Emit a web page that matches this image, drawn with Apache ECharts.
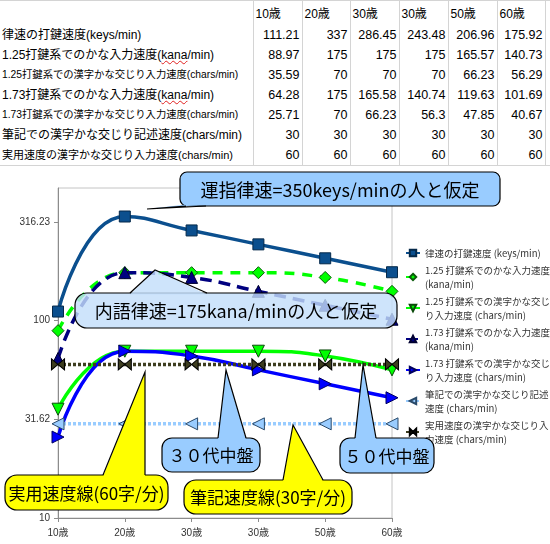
<!DOCTYPE html>
<html>
<head>
<meta charset="utf-8">
<title>打鍵速度と入力速度</title>
<script src="https://cdn.jsdelivr.net/npm/echarts@6/dist/echarts.min.js"></script>
<style>
  body { margin: 0; background: #fff; }
  #wrap { position: relative; width: 550px; height: 544px; overflow: hidden; }
  #chart { position: absolute; left: 0; top: 0; width: 550px; height: 544px; }
  #sheet { position: absolute; left: 0; top: 0; z-index: 2; background: #fff;
           border-collapse: collapse; table-layout: fixed;
           font-family: "Liberation Sans", "Noto Sans CJK JP", sans-serif; color: #000; }
  #sheet td { border-right: 1px solid #d4d4d4; white-space: nowrap; overflow: hidden;
              height: 20px; padding: 0 2px; line-height: 20px; }
  #sheet tr.hd td { height: 22px; font-size: 12px; text-align: left; border-top: 1px solid #d4d4d4; padding-top: 2px; line-height: 20px; }
  #sheet tr.last td { border-bottom: 1px solid #d4d4d4; }
  #sheet td.num { text-align: right; font-size: 12.5px; }
  #sheet td.pad { border-right: none; }
  .sp { text-decoration: underline wavy #e02020; text-decoration-thickness: 1px; }
</style>
</head>
<body>
<div id="wrap">
  <div id="chart"></div>
  <table id="sheet">
    <colgroup>
      <col style="width:253px"><col style="width:49px"><col style="width:48px"><col style="width:49px">
      <col style="width:49px"><col style="width:49px"><col style="width:48px"><col style="width:5px">
    </colgroup>
    <tbody id="sheetBody"></tbody>
  </table>
</div>
<script type="text/javascript">
// categories (the sheet really has 30歳 twice)
var categories = ['10歳', '20歳', '30歳', '30歳', '50歳', '60歳'];

var rowLabels = [
  '律速の打鍵速度(keys/min)',
  '1.25打鍵系でのかな入力速度(kana/min)',
  '1.25打鍵系での漢字かな交じり入力速度(chars/min)',
  '1.73打鍵系でのかな入力速度(kana/min)',
  '1.73打鍵系での漢字かな交じり入力速度(chars/min)',
  '筆記での漢字かな交じり記述速度(chars/min)',
  '実用速度の漢字かな交じり入力速度(chars/min)'
];

var legendLabels = [
  '律速の打鍵速度 (keys/min)',
  '1.25 打鍵系でのかな入力速度\n(kana/min)',
  '1.25 打鍵系での漢字かな交じ\nり入力速度 (chars/min)',
  '1.73 打鍵系でのかな入力速度\n(kana/min)',
  '1.73 打鍵系での漢字かな交じ\nり入力速度 (chars/min)',
  '筆記での漢字かな交じり記述\n速度 (chars/min)',
  '実用速度の漢字かな交じり入\n力速度 (chars/min)'
];

var keyRate     = [111.21, 337, 286.45, 243.48, 206.96, 175.92];
var kana125     = [88.97, 175, 175, 175, 165.57, 140.73];
var kanji125    = [35.59, 70, 70, 70, 66.23, 56.29];
var kana173     = [64.28, 175, 165.58, 140.74, 119.63, 101.69];
var kanji173    = [25.71, 70, 66.23, 56.3, 47.85, 40.67];
var handwriting = [30, 30, 30, 30, 30, 30];
var practical   = [60, 60, 60, 60, 60, 60];

var rows = [keyRate, kana125, kanji125, kana173, kanji173, handwriting, practical];

// --- spreadsheet part ---
var labelSize = [12, 12, 10.3, 12, 10.3, 12, 11];
var html = '<tr class="hd"><td></td>';
categories.forEach(function (c) { html += '<td>' + c + '</td>'; });
html += '<td class="pad"></td></tr>';
rows.forEach(function (vals, i) {
  var lab = rowLabels[i].replace('kana', '<span class="sp">kana</span>');
  html += '<tr' + (i == rows.length - 1 ? ' class="last"' : '') + '><td style="font-size:' + labelSize[i] + 'px">' + lab + '</td>';
  vals.forEach(function (v) { html += '<td class="num">' + v + '</td>'; });
  html += '<td class="pad"></td></tr>';
});
document.getElementById('sheetBody').innerHTML = html;

// --- chart ---
var looks = [
  { color: '#0b4f8e', type: 'solid', symbol: 'rect', size: 11, rotate: 0, border: '#05294a', smooth: 0.5 },
  { color: '#00ff00', type: [10, 8], symbol: 'diamond', size: 12, rotate: 0, border: '#0a5a0a', smooth: 0.5 },
  { color: '#00ff00', type: 'solid', symbol: 'triangle', size: 12, rotate: 180, border: '#0a4a0a', smooth: 0.5 },
  { color: '#000080', type: [12, 7], symbol: 'triangle', size: 12, rotate: 0, border: '#000030', smooth: 0.5 },
  { color: '#0000ff', type: 'solid', symbol: 'triangle', size: 12, rotate: -90, border: '#000060', smooth: 0.5 },
  { color: '#99ccff', type: [3, 2], symbol: 'triangle', size: 12, rotate: 90, border: '#2a4a6a', smooth: false },
  { color: '#3d3d1f', type: [3, 2], symbol: 'path://M0,0L10,6L0,12ZM20,0L10,6L20,12Z', size: [13, 11], rotate: 0, border: '#000', smooth: false }
];

var series = rows.map(function (vals, i) {
  var lk = looks[i];
  return {
    name: rowLabels[i],
    type: 'line',
    data: vals,
    smooth: lk.smooth,
    symbol: lk.symbol,
    symbolSize: lk.size,
    symbolRotate: lk.rotate,
    showAllSymbol: true,
    lineStyle: { color: lk.color, width: 3.5, type: lk.type },
    itemStyle: { color: lk.color, borderColor: lk.border, borderWidth: 1 },
    emphasis: { disabled: true },
    z: 2 + i
  };
});

// call-out boxes (annotations on the picture)
var callouts = [
  { text: '運指律速=350keys/minの人と仮定', box: [180, 172, 320, 34], r: 7, side: 'bottom', base: [186, 206], tip: [147, 209], fill: '#99ccff', size: 18 },
  { text: '内語律速=175kana/minの人と仮定', box: [75, 293, 322, 35], r: 12, side: 'top', base: [130, 207], tip: [155, 270], fill: 'rgba(195,222,250,0.82)', size: 18 },
  { text: '３０代中盤', box: [162, 438, 98, 34], r: 10, side: 'top', base: [218, 246], tip: [226, 370], fill: '#99ccff', size: 17 },
  { text: '５０代中盤', box: [340, 438, 94, 35], r: 10, side: 'top', base: [355, 376], tip: [363, 365], fill: '#99ccff', size: 17 },
  { text: '実用速度線(60字/分)', box: [5, 475, 163, 35], r: 12, side: 'top', base: [103, 145], tip: [145, 372], fill: '#ffff00', size: 17 },
  { text: '筆記速度線(30字/分)', box: [184, 480, 168, 34], r: 12, side: 'top', base: [283, 323], tip: [293, 425], fill: '#ffff00', size: 17 }
];

var graphics = callouts.map(function (c) {
  var x = c.box[0], y = c.box[1], w = c.box[2], h = c.box[3];
  var ey = c.side == 'top' ? y : y + h;
  var inset = c.side == 'top' ? 1.5 : -1.5;
  return {
    type: 'group', z: 100,
    children: [
      { type: 'rect', z: 100, shape: { x: x, y: y, width: w, height: h, r: c.r },
        style: { fill: c.fill, stroke: '#000', lineWidth: 1.2 } },
      { type: 'polygon', z: 101, shape: { points: [[c.base[0], ey + inset], c.tip, [c.base[1], ey + inset]] },
        style: { fill: c.fill, stroke: null } },
      { type: 'polyline', z: 102, shape: { points: [[c.base[0], ey], c.tip, [c.base[1], ey]] },
        style: { fill: null, stroke: '#000', lineWidth: 1.2 } },
      { type: 'text', z: 103, style: { text: c.text, x: x + w / 2, y: y + h / 2 + 1, align: 'center', verticalAlign: 'middle',
        fontFamily: 'Noto Sans CJK JP', fontSize: c.size, fill: '#000' } }
    ]
  };
});

function fmtLog(v) {
  if (v > 400) return '';
  if (Math.abs(v - Math.round(v)) < 1e-6) return String(Math.round(v));
  return v.toFixed(2);
}

var myChart = echarts.init(document.getElementById('chart'));
var option = {
  animation: false,
  backgroundColor: '#fff',
  textStyle: { fontFamily: 'Liberation Sans, Noto Sans CJK JP, sans-serif' },
  grid: { left: 58, right: 158, top: 188, bottom: 26, show: true, borderColor: '#c4c4c4', borderWidth: 1, outerBoundsMode: 'none' },
  legend: {
    orient: 'vertical', left: 400, top: 241, itemGap: 3, itemWidth: 14, itemHeight: 8,
    textStyle: { fontSize: 9.5, color: '#333', lineHeight: 14, fontFamily: 'Noto Sans CJK JP' },
    formatter: function (name) { return legendLabels[rowLabels.indexOf(name)]; },
    selectedMode: false
  },
  xAxis: {
    type: 'category', data: categories, boundaryGap: false,
    axisLine: { lineStyle: { color: '#8c8c8c' } },
    axisTick: { alignWithLabel: true, length: 4, lineStyle: { color: '#8c8c8c' } },
    axisLabel: { fontSize: 10, color: '#333', margin: 10 },
    splitLine: { show: false }
  },
  yAxis: {
    type: 'log', logBase: Math.sqrt(10), min: 10, max: 470,
    axisLine: { show: true, lineStyle: { color: '#8c8c8c' } },
    axisTick: { show: true, length: 4, lineStyle: { color: '#8c8c8c' } },
    splitLine: { show: false },
    axisLabel: { fontSize: 10, color: '#333', margin: 8, formatter: fmtLog, showMaxLabel: false }
  },
  series: series,
  graphic: graphics
};
myChart.setOption(option);
</script>
</body>
</html>
